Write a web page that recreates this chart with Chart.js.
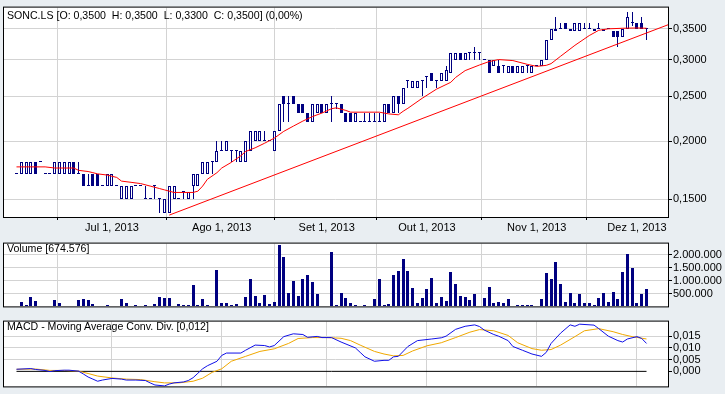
<!DOCTYPE html>
<html>
<head>
<meta charset="utf-8">
<script src="https://cdn.jsdelivr.net/npm/chart.js@4.4.0/dist/chart.umd.min.js"></script>
<style>
  body { margin: 0; background: #e9eef2; }
  #board { position: relative; width: 725px; height: 394px; overflow: hidden; }
  #board canvas { position: absolute; left: 0; }
  .caption { position: absolute; left: 7px; font: 10.6px "Liberation Sans", Arial, sans-serif; color: #000; white-space: pre; line-height: 12px; }
</style>
</head>
<body>
<div id="board">
  <canvas id="price-chart" width="725" height="236" style="top:0"></canvas>
  <canvas id="volume-chart" width="725" height="78" style="top:236px"></canvas>
  <canvas id="macd-chart" width="725" height="80" style="top:314px"></canvas>
  <div class="caption" style="top:9px">SONC.LS [O: 0,3500  H: 0,3500  L: 0,3300  C: 0,3500] (0,00%)</div>
  <div class="caption" style="top:242px">Volume [674.576]</div>
  <div class="caption" style="top:320px">MACD - Moving Average Conv. Div. [0,012]</div>
</div>
<script>
// trading day index -> month start
const monthIdx = [20, 43, 65, 86, 109, 130];
const monthLabels = ['Jul 1, 2013', 'Ago 1, 2013', 'Set 1, 2013', 'Out 1, 2013', 'Nov 1, 2013', 'Dez 1, 2013'];

// one row per trading day: [open, high, low, close]
const ohlc = [
  [.17,.17,.17,.17], [.17,.18,.17,.18], [.17,.18,.17,.18], [.17,.18,.17,.18], [.18,.18,.17,.17],
  [.18,.18,.18,.18], [.17,.17,.17,.17], [.17,.17,.17,.17], [.17,.18,.17,.18], [.17,.18,.17,.18],
  [.17,.18,.17,.18], [.17,.18,.17,.18], [.18,.18,.17,.17], [.17,.18,.17,.17], [.17,.17,.16,.16],
  [.16,.17,.16,.16], [.17,.17,.16,.16], [.17,.17,.16,.16], [.16,.16,.16,.16], [.16,.17,.16,.17],
  [.16,.17,.16,.17], [.16,.16,.16,.16], [.15,.16,.15,.16], [.15,.16,.15,.16], [.15,.16,.15,.16],
  [.16,.16,.16,.16], [.16,.16,.16,.16], [.15,.16,.15,.15], [.15,.15,.15,.15], [.16,.16,.15,.16],
  [.15,.15,.14,.15], [.14,.15,.14,.15], [.14,.16,.14,.16], [.15,.16,.15,.16], [.15,.15,.15,.15],
  [.155,.155,.15,.155], [.15,.155,.15,.155], [.16,.17,.15,.17], [.16,.17,.16,.17], [.17,.18,.17,.18],
  [.17,.18,.17,.18], [.18,.18,.17,.18], [.18,.20,.18,.19], [.19,.20,.19,.19], [.19,.20,.19,.20],
  [.19,.19,.18,.19], [.19,.19,.18,.19], [.18,.19,.18,.19], [.18,.20,.18,.20], [.19,.21,.19,.21],
  [.20,.21,.20,.21], [.20,.21,.20,.21], [.20,.21,.20,.20], [.20,.20,.20,.20], [.19,.21,.19,.21],
  [.21,.24,.21,.24], [.25,.25,.22,.24], [.24,.25,.22,.24], [.25,.25,.24,.24], [.24,.24,.23,.23],
  [.24,.24,.23,.23], [.23,.23,.22,.22], [.22,.24,.22,.24], [.23,.24,.23,.24], [.24,.24,.23,.23],
  [.23,.24,.23,.24], [.24,.25,.22,.24], [.24,.24,.235,.24], [.24,.24,.23,.23], [.23,.23,.22,.22],
  [.23,.23,.22,.22], [.22,.23,.22,.23], [.22,.22,.22,.22], [.22,.23,.22,.22], [.22,.23,.22,.22],
  [.22,.23,.22,.22], [.22,.23,.22,.22], [.22,.24,.22,.24], [.24,.24,.23,.23], [.23,.25,.23,.25],
  [.25,.25,.23,.24], [.24,.26,.24,.26], [.27,.27,.26,.27], [.26,.27,.26,.27], [.26,.27,.26,.27],
  [.27,.27,.25,.27], [.275,.275,.26,.275], [.28,.28,.27,.27], [.27,.27,.26,.27], [.27,.28,.27,.28],
  [.27,.29,.27,.285], [.28,.31,.28,.31], [.30,.31,.30,.31], [.31,.31,.30,.30], [.30,.31,.30,.31],
  [.31,.31,.30,.31], [.31,.32,.30,.31], [.31,.31,.30,.31], [.30,.30,.30,.30], [.30,.30,.28,.28],
  [.29,.30,.29,.30], [.29,.30,.28,.28], [.29,.29,.28,.29], [.28,.29,.28,.29], [.29,.29,.28,.28],
  [.28,.29,.28,.29], [.28,.29,.28,.29], [.29,.29,.28,.29], [.28,.29,.28,.29], [.29,.29,.29,.29],
  [.29,.30,.29,.30], [.30,.33,.30,.33], [.33,.35,.33,.35], [.345,.37,.345,.35], [.35,.36,.35,.35],
  [.36,.36,.35,.35], [.35,.35,.345,.345], [.345,.36,.345,.36], [.345,.36,.345,.36], [.35,.36,.35,.35],
  [.35,.36,.35,.35], [.35,.35,.345,.345], [.35,.36,.35,.35], [.35,.35,.345,.345], [.35,.35,.35,.35],
  [.345,.345,.335,.335], [.345,.345,.32,.335], [.335,.35,.335,.35], [.35,.38,.35,.37], [.36,.38,.355,.36],
  [.36,.36,.35,.35], [.36,.37,.35,.35], [.35,.35,.33,.35]
];

const volume = [
  0, 180000, 40000, 370000, 210000, 0, 30000, 30000, 240000, 140000,
  30000, 0, 0, 230000, 270000, 230000, 100000, 30000, 0, 70000,
  0, 30000, 270000, 140000, 0, 70000, 30000, 70000, 30000, 100000,
  370000, 330000, 310000, 0, 100000, 70000, 70000, 810000, 70000, 300000,
  70000, 0, 1410000, 130000, 130000, 70000, 100000, 30000, 370000, 1070000,
  400000, 130000, 430000, 100000, 180000, 2370000, 1900000, 500000, 970000, 400000,
  1070000, 1230000, 930000, 480000, 30000, 0, 2120000, 70000, 530000, 330000,
  140000, 70000, 30000, 70000, 0, 270000, 1070000, 70000, 100000, 1200000,
  1370000, 1830000, 1370000, 700000, 130000, 330000, 670000, 1100000, 130000, 370000,
  200000, 1330000, 870000, 400000, 370000, 230000, 470000, 0, 330000, 770000,
  140000, 170000, 130000, 300000, 30000, 70000, 70000, 70000, 70000, 30000,
  270000, 1300000, 1070000, 1730000, 870000, 170000, 500000, 130000, 470000, 130000,
  130000, 70000, 330000, 500000, 170000, 570000, 300000, 1330000, 2030000, 1500000,
  130000, 470000, 674576
];

// red moving average: [day index, price]
const maPoints = [
  [0,.176],[6,.176],[8,.175],[12,.175],[13,.173],[15,.172],[16,.171],[17,.170],[19,.169],[21,.167],
  [22,.164],[24,.163],[26,.162],[28,.160],[30,.158],[31,.157],[33,.155],[37,.155],[38,.156],[39,.160],
  [40,.1655],[42,.171],[43,.175],[45,.180],[47,.186],[48,.190],[50,.1935],[52,.198],[54,.203],[56,.210],
  [58,.2155],[60,.221],[62,.226],[64,.230],[66,.235],[67,.236],[69,.233],[70,.231],[76,.231],[78,.229],
  [80,.228],[81,.232],[82,.2355],[85,.2475],[88,.259],[91,.268],[92,.2745],[94,.284],[97,.292],[99,.297],
  [101,.300],[104,.2985],[107,.293],[109,.290],[111,.2915],[112,.294],[114,.305],[117,.322],[120,.338],[122,.347],
  [124,.3495],[127,.3505],[130,.351],[132,.3505]
];
const trendPoints = [[32, .1385], [138, .3615]];

const macdPoints = [
  [0,.0009],[3,.0012],[4,.0008],[6,.0004],[7,-.0001],[8,.0003],[10,.0005],[11,.0005],[13,.0001],[14,-.0011],
  [15,-.0024],[16,-.0033],[17,-.0042],[18,-.0037],[20,-.003],[22,-.0033],[23,-.0037],[25,-.0037],[27,-.0039],[28,-.0049],
  [29,-.0058],[31,-.0062],[32,-.0054],[33,-.0049],[35,-.0045],[36,-.0039],[37,-.0027],[38,-.0008],[39,.0011],[40,.0024],
  [42,.0043],[43,.0068],[44,.0078],[47,.0078],[48,.009],[50,.0112],[52,.011],[53,.0104],[54,.011],[56,.0148],
  [58,.016],[60,.0157],[61,.0145],[63,.0149],[64,.0144],[66,.0144],[68,.0125],[71,.010],[72,.0081],[73,.0062],
  [75,.0043],[77,.0047],[78,.0047],[79,.0062],[80,.0064],[82,.0106],[84,.0131],[87,.0138],[89,.0143],[90,.015],
  [92,.0179],[94,.0192],[96,.0198],[97,.0191],[98,.0176],[100,.0157],[101,.015],[103,.0131],[104,.0106],[106,.009],
  [108,.0074],[110,.0064],[111,.0081],[112,.0119],[114,.0163],[116,.0198],[117,.0192],[118,.0201],[121,.0197],[122,.0182],
  [124,.015],[126,.0131],[127,.0125],[128,.0138],[130,.0148],[131,.014],[132,.0119]
];
const signalPoints = [
  [0,.0009],[4,.001],[7,.0004],[10,.0004],[13,.0001],[15,-.0009],[17,-.002],[20,-.0028],[23,-.0033],[26,-.0035],
  [29,-.0044],[31,-.0049],[34,-.0049],[37,-.0042],[39,-.0029],[41,-.0004],[43,.0011],[45,.0043],[48,.0064],[51,.0085],
  [54,.0096],[57,.0119],[59,.014],[62,.0144],[65,.0144],[68,.0141],[70,.0131],[72,.0112],[75,.0085],[77,.0074],
  [79,.0066],[81,.0068],[83,.0087],[86,.0109],[89,.0122],[92,.0144],[95,.0167],[97,.0178],[100,.0173],[103,.0153],
  [105,.0122],[108,.0097],[110,.009],[112,.0093],[114,.0112],[117,.0148],[119,.0173],[122,.0182],[125,.0169],[127,.0157],
  [129,.0148],[132,.0138]
];
const zeroPoints = [[0, 0], [132, 0]];

const priceTicks = [0.15, 0.2, 0.25, 0.3, 0.35];
const volumeTicks = [500000, 1000000, 1500000, 2000000];
const macdTicks = [0, 0.005, 0.01, 0.015];

const navy = '#000080';
const gridGray = '#d3d3d3';
const xMin = -2.83, xMax = 136.5;

Chart.defaults.font.family = '"Liberation Sans", Arial, sans-serif';
Chart.defaults.font.size = 11;
Chart.defaults.color = '#000';

const framePlugin = {
    id: 'frame',
    beforeDraw(chart) {
        const {ctx, chartArea: a} = chart;
        ctx.save();
        ctx.fillStyle = '#fff';
        ctx.fillRect(a.left, a.top, a.right - a.left, a.bottom - a.top);
        ctx.restore();
    },
    afterDraw(chart) {
        const {ctx, chartArea: a} = chart;
        ctx.save();
        ctx.strokeStyle = '#000';
        ctx.lineWidth = 1;
        ctx.strokeRect(a.left + 0.5, a.top - 0.5, a.right - a.left, a.bottom - a.top + 1);
        ctx.restore();
    }
};

// keep the thin bars on whole pixels so they stay crisp
const snapPlugin = {
    id: 'snap',
    afterDatasetsUpdate(chart) {
        chart.getSortedVisibleDatasetMetas().forEach(meta => {
            if (meta.type !== 'bar') return;
            meta.data.forEach(el => {
                el.x = Math.floor(el.x) + 0.5;
                el.y = Math.round(el.y);
                el.base = Math.round(el.base);
            });
        });
    }
};

function toXY(points) {
    return points.map(([x, y]) => ({x: x, y: y}));
}

function xAxis(showLabels) {
    return {
        type: 'linear',
        min: xMin,
        max: xMax,
        offset: false,
        afterBuildTicks: (s) => { s.ticks = monthIdx.map(v => ({value: v})); },
        afterFit: (s) => { s.height = showLabels ? 19 : 0; },
        grid: {color: gridGray, tickColor: '#000', tickLength: 3, drawTicks: showLabels},
        border: {display: false},
        ticks: {
            display: showLabels,
            padding: 1,
            maxRotation: 0,
            autoSkip: false,
            callback: (v) => monthLabels[monthIdx.indexOf(v)]
        }
    };
}

function yAxis(type, min, max, tickValues, format) {
    return {
        type: type,
        position: 'right',
        min: min,
        max: max,
        afterBuildTicks: (s) => { s.ticks = tickValues.map(v => ({value: v})); },
        afterFit: (s) => { s.width = 57; },
        grid: {
            color: (c) => (c.tick && c.tick.value === 0) ? 'rgba(0,0,0,0)' : gridGray,
            tickColor: '#000',
            tickLength: 4
        },
        border: {display: false},
        ticks: {padding: 1, autoSkip: false, callback: format}
    };
}

function commonOptions(padding, scales) {
    return {
        responsive: false,
        animation: false,
        events: [],
        layout: {padding: padding},
        plugins: {legend: {display: false}, tooltip: {enabled: false}},
        scales: scales
    };
}

const priceFormat = (v) => v.toFixed(4).replace('.', ',');
const volumeFormat = (v) => String(v).replace(/\B(?=(\d{3})+(?!\d))/g, '.');
const macdFormat = (v) => v.toFixed(3).replace('.', ',');

new Chart(document.getElementById('price-chart'), {
    type: 'bar',
    data: {
        datasets: [
            {type: 'line', data: toXY(maPoints), borderColor: '#ff0000', borderWidth: 1, pointRadius: 0, order: 0},
            {type: 'line', data: toXY(trendPoints), borderColor: '#ff0000', borderWidth: 1, pointRadius: 0, order: 0},
            {
                type: 'bar',
                data: ohlc.map(([o, h, l, c], i) => ({x: i, y: [Math.min(o, c), Math.max(o, c)]})),
                backgroundColor: ohlc.map(([o, h, l, c]) => c >= o ? '#ffffff' : navy),
                borderColor: navy,
                borderWidth: 1,
                borderSkipped: false,
                barThickness: 3,
                minBarLength: 1,
                inflateAmount: 0,
                grouped: false,
                order: 1
            },
            {
                type: 'bar',
                data: ohlc.map(([o, h, l, c], i) => ({x: i, y: [l, h]})),
                backgroundColor: navy,
                borderWidth: 0,
                barThickness: 1,
                minBarLength: 1,
                inflateAmount: 0,
                grouped: false,
                order: 2
            }
        ]
    },
    options: commonOptions({left: 3, top: 6, right: 0, bottom: 0}, {
        x: xAxis(true),
        y: yAxis('logarithmic', 0.1372, 0.3884, priceTicks, priceFormat)
    }),
    plugins: [framePlugin, snapPlugin]
});

new Chart(document.getElementById('volume-chart'), {
    type: 'bar',
    data: {
        datasets: [{
            data: volume.map((v, i) => ({x: i, y: v})),
            backgroundColor: navy,
            barThickness: 3,
            inflateAmount: 0,
            grouped: false
        }]
    },
    options: commonOptions({left: 3, top: 3, right: 0, bottom: 2}, {
        x: xAxis(false),
        y: yAxis('linear', 0, 2433000, volumeTicks, volumeFormat)
    }),
    plugins: [framePlugin, snapPlugin]
});

new Chart(document.getElementById('macd-chart'), {
    type: 'line',
    data: {
        datasets: [
            {data: toXY(macdPoints), borderColor: '#1010e8', borderWidth: 1, pointRadius: 0, order: 0},
            {data: toXY(signalPoints), borderColor: '#f0a800', borderWidth: 1, pointRadius: 0, order: 1},
            {data: toXY(zeroPoints), borderColor: '#000', borderWidth: 1, pointRadius: 0, order: 2}
        ]
    },
    options: commonOptions({left: 3, top: 3, right: 0, bottom: 4}, {
        x: xAxis(false),
        y: yAxis('linear', -0.0064, 0.0212, macdTicks, macdFormat)
    }),
    plugins: [framePlugin]
});
</script>
</body>
</html>
